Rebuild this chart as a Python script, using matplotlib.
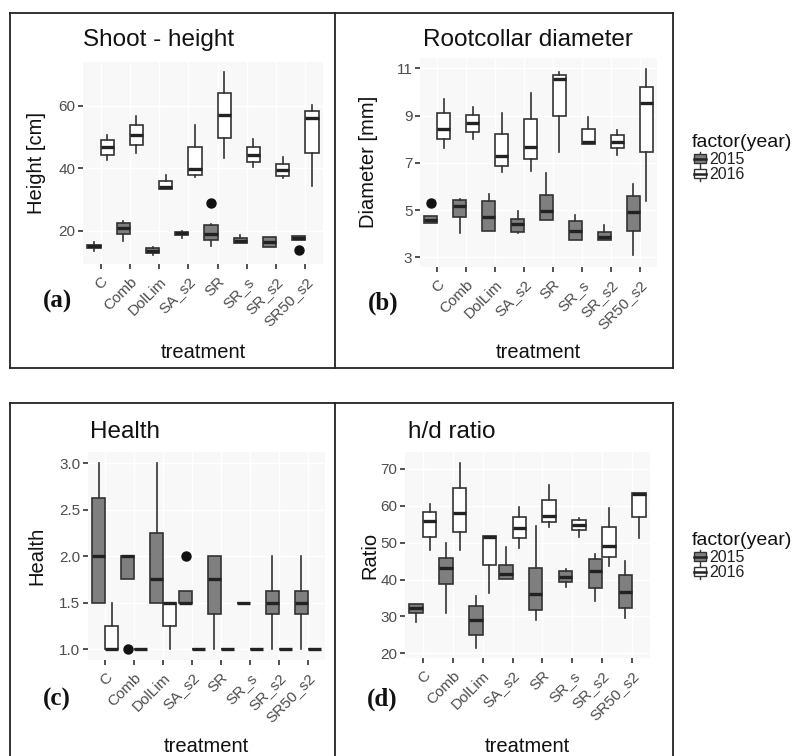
import matplotlib
matplotlib.use('Agg')
import matplotlib.pyplot as plt
from matplotlib.patches import Rectangle, Patch
from matplotlib.lines import Line2D
from matplotlib.legend_handler import HandlerBase

plt.rcParams['font.family'] = ['Liberation Sans', 'DejaVu Sans']

treatments = ['C', 'Comb', 'DolLim', 'SA_s2', 'SR', 'SR_s', 'SR_s2', 'SR50_s2']
years = ['2015', '2016']

# (whisker low, Q1, median, Q3, whisker high) per treatment
height_2015 = [(13.5, 14.5, 15.0, 15.5, 16.5), (16.7, 19.0, 20.8, 22.6, 23.0),
               (12.3, 12.7, 13.5, 14.3, 14.8), (17.6, 18.7, 19.2, 19.6, 20.0),
               (15.1, 17.0, 19.0, 21.8, 22.0), (16.0, 16.0, 16.8, 17.6, 18.6),
               (14.7, 14.7, 16.4, 18.1, 18.1), (17.0, 17.0, 17.5, 18.3, 18.3)]
height_2016 = [(42.6, 44.2, 46.7, 49.0, 50.8), (45.0, 47.6, 50.8, 53.8, 56.8),
               (33.2, 33.2, 34.0, 35.9, 37.8), (37.1, 38.0, 39.7, 46.9, 53.8),
               (43.2, 49.8, 57.0, 64.0, 70.9), (40.5, 42.1, 44.2, 46.7, 49.3),
               (36.8, 37.5, 39.4, 41.3, 43.5), (34.3, 44.8, 56.2, 58.3, 60.2)]
height_out_2015 = [[], [], [], [], [29.0], [], [], [13.8]]
height_out_2016 = [[], [], [], [], [], [], [], []]

diam_2015 = [(4.47, 4.47, 4.60, 4.77, 4.77), (4.02, 4.70, 5.19, 5.43, 5.45),
             (4.12, 4.12, 4.72, 5.40, 5.68), (4.02, 4.09, 4.40, 4.62, 4.98),
             (4.58, 4.58, 4.96, 5.64, 6.59), (3.74, 3.74, 4.13, 4.55, 4.79),
             (3.74, 3.74, 3.88, 4.09, 4.37), (3.10, 4.12, 4.94, 5.60, 6.11)]
diam_2016 = [(7.64, 8.01, 8.43, 9.10, 9.69), (8.01, 8.32, 8.70, 9.03, 9.38),
             (6.60, 6.88, 7.29, 8.21, 9.10), (6.66, 7.15, 7.69, 8.84, 9.97),
             (7.45, 8.98, 10.55, 10.72, 10.83), (7.80, 7.80, 7.90, 8.42, 8.93),
             (7.33, 7.61, 7.90, 8.18, 8.39), (5.39, 7.45, 9.52, 10.22, 10.96)]
diam_out_2015 = [[5.29], [], [], [], [], [], [], []]
diam_out_2016 = [[], [], [], [], [], [], [], []]

health_2015 = [(1.5, 1.5, 2.0, 2.625, 3.0), (1.75, 1.75, 2.0, 2.0, 2.0),
               (1.5, 1.5, 1.75, 2.25, 3.0), (1.5, 1.5, 1.5, 1.625, 1.625),
               (1.0, 1.375, 1.75, 2.0, 2.0), (1.5, 1.5, 1.5, 1.5, 1.5),
               (1.0, 1.375, 1.5, 1.625, 2.0), (1.0, 1.375, 1.5, 1.625, 2.0)]
health_2016 = [(1.0, 1.0, 1.0, 1.25, 1.5), (1.0, 1.0, 1.0, 1.0, 1.0),
               (1.0, 1.25, 1.5, 1.5, 1.5), (1.0, 1.0, 1.0, 1.0, 1.0),
               (1.0, 1.0, 1.0, 1.0, 1.0), (1.0, 1.0, 1.0, 1.0, 1.0),
               (1.0, 1.0, 1.0, 1.0, 1.0), (1.0, 1.0, 1.0, 1.0, 1.0)]
health_out_2015 = [[], [1.0], [], [2.0], [], [], [], []]
health_out_2016 = [[], [], [], [], [], [], [], []]

ratio_2015 = [(28.4, 31.0, 32.2, 33.4, 33.4), (30.8, 38.8, 43.1, 45.8, 49.8),
              (21.4, 25.0, 29.0, 32.8, 35.6), (40.2, 40.2, 41.5, 44.0, 48.8),
              (29.0, 31.6, 36.1, 43.1, 54.5), (37.9, 39.2, 40.8, 42.2, 42.8),
              (34.2, 37.6, 42.2, 45.6, 46.9), (29.5, 32.2, 36.5, 41.2, 45.0)]
ratio_2016 = [(48.0, 51.6, 56.0, 58.4, 60.5), (48.0, 53.0, 58.0, 64.8, 71.5),
              (36.3, 44.0, 51.5, 51.8, 51.8), (48.5, 51.2, 54.1, 56.9, 59.6),
              (54.2, 55.7, 57.3, 61.6, 65.7), (51.5, 53.5, 54.8, 56.2, 56.6),
              (43.7, 46.2, 49.2, 54.2, 59.5), (51.2, 56.9, 63.2, 63.6, 63.6)]
ratio_out_2015 = [[], [], [], [], [], [], [], []]
ratio_out_2016 = [[], [], [], [], [], [], [], []]

W, H = 798, 756
fig = plt.figure(figsize=(W / 100, H / 100), dpi=100)

EDGE = '#333333'
FILLS = {'2015': '#7f7f7f', '2016': '#ffffff'}
TICKC = '#4d4d4d'


def fx(px):
    return px / W


def fy(py):
    return 1 - py / H


def make_ax(x0, y0, x1, y1):
    return fig.add_axes([fx(x0), fy(y1), fx(x1 - x0), (y1 - y0) / H])


def to_stats(rows, outs):
    st = []
    for (lo, q1, med, q3, hi), fl in zip(rows, outs):
        st.append(dict(whislo=lo, q1=q1, med=med, q3=q3, whishi=hi, fliers=fl))
    return st


def draw_panel(ax, d15, d16, o15, o16, ylim, yticks, yticklabels):
    ax.set_facecolor('#f8f8f8')
    for spine in ax.spines.values():
        spine.set_visible(False)
    n = len(treatments)
    for data, outs, yr, off in ((d15, o15, '2015', -0.225), (d16, o16, '2016', 0.225)):
        pos = [i + off for i in range(n)]
        ax.bxp(to_stats(data, outs), positions=pos, widths=0.45,
               patch_artist=True, showcaps=False, manage_ticks=False,
               boxprops=dict(facecolor=FILLS[yr], edgecolor=EDGE, linewidth=1.2),
               medianprops=dict(color='#222222', linewidth=2.4),
               whiskerprops=dict(color=EDGE, linewidth=1.2),
               flierprops=dict(marker='o', markerfacecolor='#111111',
                               markeredgecolor='#111111', markersize=6.5),
               zorder=3)
    ax.set_xlim(-0.6, n - 0.4)
    ax.set_ylim(*ylim)
    ax.set_xticks(range(n))
    ax.set_xticklabels(treatments, rotation=45, ha='right', rotation_mode='anchor')
    ax.set_yticks(yticks)
    ax.set_yticklabels(yticklabels)
    ax.tick_params(axis='both', colors=EDGE, labelcolor=TICKC, labelsize=11,
                   length=3.5, width=1.2, pad=2)
    ax.tick_params(axis='x', pad=4)
    ax.grid(True, color='white', linewidth=1.0, zorder=0)
    ax.set_axisbelow(True)


axA = make_ax(83, 62, 323, 264)
draw_panel(axA, height_2015, height_2016, height_out_2015, height_out_2016,
           (9.3, 74.1), [20, 40, 60], ['20', '40', '60'])
axB = make_ax(420, 58, 657, 267)
draw_panel(axB, diam_2015, diam_2016, diam_out_2015, diam_out_2016,
           (2.59, 11.44), [3, 5, 7, 9, 11], ['3', '5', '7', '9', '11'])
axC = make_ax(88, 452, 325, 660)
draw_panel(axC, health_2015, health_2016, health_out_2015, health_out_2016,
           (0.885, 3.12), [1.0, 1.5, 2.0, 2.5, 3.0], ['1.0', '1.5', '2.0', '2.5', '3.0'])
axD = make_ax(405, 452, 650, 658)
draw_panel(axD, ratio_2015, ratio_2016, ratio_out_2015, ratio_out_2016,
           (18.7, 74.6), [20, 30, 40, 50, 60, 70], ['20', '30', '40', '50', '60', '70'])

# titles
for txt, x, y in (('Shoot - height', 83, 40), ('Rootcollar diameter', 423, 40),
                  ('Health', 90, 432), ('h/d ratio', 408, 432)):
    fig.text(fx(x), fy(y), txt, fontsize=17.5, ha='left', va='center', color='#111111')

# y labels
for txt, x, y in (('Height [cm]', 37, 163), ('Diameter [mm]', 368, 162),
                  ('Health', 37, 556), ('Ratio', 370, 555)):
    fig.text(fx(x), fy(y), txt, fontsize=14.5, rotation=90, ha='center', va='center',
             color='#111111')

# x labels
for x, y in ((203, 352), (538, 352), (206, 747), (527, 747)):
    fig.text(fx(x), fy(y), 'treatment', fontsize=14.5, ha='center', va='center',
             color='#111111')

# panel letters
for txt, x, y in (('(a)', 57, 301), ('(b)', 383, 303), ('(c)', 57, 699), ('(d)', 382, 699)):
    fig.text(fx(x), fy(y), txt, fontsize=18, fontweight='bold', ha='center', va='center',
             family=['Liberation Serif', 'DejaVu Serif'], color='#111111')

# frames
def fline(x0, y0, x1, y1):
    fig.add_artist(Line2D([fx(x0), fx(x1)], [fy(y0), fy(y1)], color='#222222',
                          linewidth=1.3, transform=fig.transFigure))

fline(10, 13, 673, 13)
fline(10, 368, 673, 368)
fline(10, 13, 10, 368)
fline(673, 13, 673, 368)
fline(335, 13, 335, 368)
fline(10, 403, 673, 403)
fline(10, 403, 10, 756)
fline(673, 403, 673, 756)
fline(335, 403, 335, 756)


class BoxHandler(HandlerBase):
    def create_artists(self, legend, orig_handle, xdescent, ydescent, width, height,
                       fontsize, trans):
        x0, y0 = -xdescent, -ydescent
        fc = orig_handle.get_facecolor()
        cx = x0 + width / 2
        wl = Line2D([cx, cx], [y0 - height * 0.1, y0 + height * 1.1], color=EDGE,
                    linewidth=1.0, transform=trans)
        r = Rectangle((x0 + width * 0.1, y0 + height * 0.12), width * 0.8, height * 0.76,
                      facecolor=fc, edgecolor=EDGE, linewidth=1.0, transform=trans)
        md = Line2D([x0 + width * 0.1, x0 + width * 0.9], [y0 + height / 2] * 2,
                    color='#222222', linewidth=1.8, transform=trans)
        return [wl, r, md]


handles = [Patch(facecolor=FILLS[y], edgecolor=EDGE) for y in years]
for ytop in (134, 532):
    leg = fig.legend(handles, years, loc='upper left',
                     bbox_to_anchor=(fx(692), fy(ytop)), frameon=False,
                     title='factor(year)', title_fontsize=14, fontsize=11.5,
                     handler_map={Patch: BoxHandler()}, handlelength=0.95,
                     handleheight=0.75, handletextpad=0.15, labelspacing=0.0,
                     borderpad=0, borderaxespad=0, alignment='left')
    leg._legend_box.sep = 1
    for t in leg.get_texts():
        t.set_color('#222222')
    leg.get_title().set_color('#111111')

fig.savefig('out.png', dpi=100)
